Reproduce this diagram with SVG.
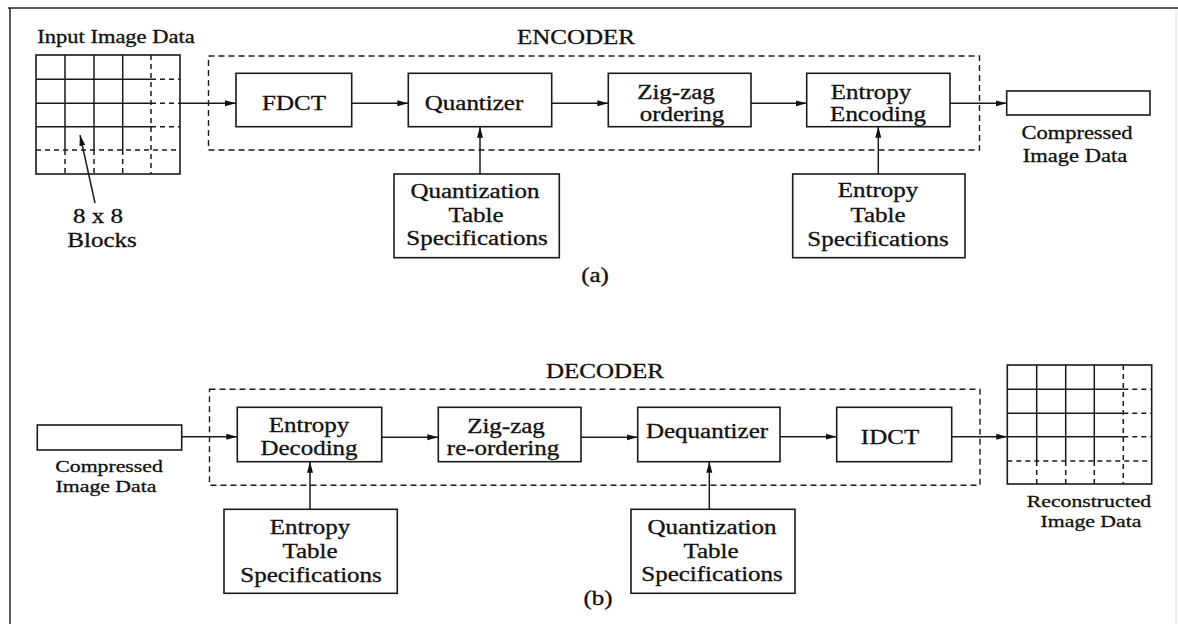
<svg xmlns="http://www.w3.org/2000/svg" width="1178" height="624" viewBox="0 0 1178 624">
<style>
.bx{fill:#fff;stroke:#1a1a1a;stroke-width:1.6}
.ds{fill:none;stroke:#1a1a1a;stroke-width:1.4;stroke-dasharray:6 4}
.ln{stroke:#1a1a1a;stroke-width:1.5;fill:none}
.gd{stroke:#1a1a1a;stroke-width:1.5;fill:none;stroke-dasharray:5 4}
.t{font-family:"Liberation Serif","Times New Roman",serif;font-size:20px;fill:#111;stroke:#111;stroke-width:0.3;text-anchor:middle}
.s{font-family:"Liberation Serif","Times New Roman",serif;font-size:18px;fill:#111;stroke:#111;stroke-width:0.3;text-anchor:middle}
.s2{font-family:"Liberation Serif","Times New Roman",serif;font-size:17px;fill:#111;stroke:#111;stroke-width:0.3;text-anchor:middle}
</style>
<defs>
<marker id="ah" markerUnits="userSpaceOnUse" markerWidth="12" markerHeight="8" refX="11" refY="3.5" orient="auto">
<path d="M0,0.5 L11,3.5 L0,6.5 z" fill="#111"/>
</marker>
</defs>
<rect width="1178" height="624" fill="#fff"/>
<g id="frame">
<line x1="8" y1="8" x2="1178" y2="8" stroke="#222" stroke-width="1.6"/>
<line x1="10" y1="8" x2="10" y2="624" stroke="#333" stroke-width="1.6"/>
<line x1="1176" y1="10" x2="1176" y2="624" stroke="#ddd" stroke-width="1"/>
</g>

<!-- ENCODER -->
<g id="encoder-frame">
<rect class="ds" x="208.5" y="56" width="771" height="94"/>
<text class="t" transform="translate(576,44) scale(1.25,1)">ENCODER</text>
</g>
<g id="input-grid">
<text class="s" transform="translate(116,43) scale(1.25,1)">Input Image Data</text>
<rect x="36" y="55" width="144" height="119" fill="none" stroke="#1a1a1a" stroke-width="1.6"/>
<path class="ln" d="M65,55V150M94,55V150M122.7,55V150M36,79.3H151M36,103.3H151M36,126.7H151"/>
<path class="gd" d="M65,150V174M94,150V174M122.7,150V174M151,55V174M151,79.3H180M151,103.3H180M151,126.7H180M36,150H180"/>
<text class="t" transform="translate(98,223) scale(1.25,1)">8 x 8</text>
<text class="t" transform="translate(102,247) scale(1.25,1)">Blocks</text>
</g>
<g id="fdct">
<rect class="bx" x="236" y="73.3" width="115.7" height="53.4"/>
<text class="t" transform="translate(294,110) scale(1.25,1)">FDCT</text>
</g>
<g id="quantizer">
<rect class="bx" x="408.3" y="73.3" width="143.4" height="53.4"/>
<text class="t" transform="translate(474,110) scale(1.25,1)">Quantizer</text>
</g>
<g id="zigzag">
<rect class="bx" x="608.3" y="73.3" width="142.7" height="53.4"/>
<text class="t" transform="translate(676,99) scale(1.25,1)">Zig-zag</text>
<text class="t" transform="translate(682,121) scale(1.25,1)">ordering</text>
</g>
<g id="entropy-encoding">
<rect class="bx" x="806.7" y="73.3" width="143.3" height="53.4"/>
<text class="t" transform="translate(871,99) scale(1.25,1)">Entropy</text>
<text class="t" transform="translate(878,121) scale(1.25,1)">Encoding</text>
</g>
<g id="compressed-out">
<rect class="bx" x="1006.7" y="91" width="143.3" height="24"/>
<text class="s" transform="translate(1077,139) scale(1.25,1)">Compressed</text>
<text class="s" transform="translate(1075,162) scale(1.25,1)">Image Data</text>
</g>
<g id="quant-table-enc">
<rect class="bx" x="394" y="174" width="165.3" height="83.7"/>
<text class="t" transform="translate(475,198) scale(1.25,1)">Quantization</text>
<text class="t" transform="translate(476,222) scale(1.25,1)">Table</text>
<text class="t" transform="translate(477,245) scale(1.25,1)">Specifications</text>
</g>
<g id="entropy-table-enc">
<rect class="bx" x="792.7" y="174" width="172.3" height="83.7"/>
<text class="t" transform="translate(878,197) scale(1.25,1)">Entropy</text>
<text class="t" transform="translate(878,222) scale(1.25,1)">Table</text>
<text class="t" transform="translate(878,246) scale(1.25,1)">Specifications</text>
</g>
<text class="t" transform="translate(595,282) scale(1.25,1)">(a)</text>

<!-- DECODER -->
<g id="decoder-frame">
<rect class="ds" x="209.5" y="389.3" width="770.5" height="96"/>
<text class="t" transform="translate(605,378) scale(1.25,1)">DECODER</text>
</g>
<g id="compressed-in">
<rect class="bx" x="37.3" y="425" width="144.4" height="25"/>
<text class="s2" transform="translate(109,472) scale(1.28,1)">Compressed</text>
<text class="s2" transform="translate(106,492) scale(1.28,1)">Image Data</text>
</g>
<g id="entropy-decoding">
<rect class="bx" x="237.3" y="407.3" width="144.4" height="54.4"/>
<text class="t" transform="translate(309,432) scale(1.25,1)">Entropy</text>
<text class="t" transform="translate(309,455) scale(1.25,1)">Decoding</text>
</g>
<g id="zigzag-re">
<rect class="bx" x="438.3" y="407.3" width="142.7" height="54.4"/>
<text class="t" transform="translate(506,432.5) scale(1.25,1)">Zig-zag</text>
<text class="t" transform="translate(503,455) scale(1.25,1)">re-ordering</text>
</g>
<g id="dequantizer">
<rect class="bx" x="637.7" y="407.3" width="142.3" height="54.4"/>
<text class="t" transform="translate(707,438) scale(1.25,1)">Dequantizer</text>
</g>
<g id="idct">
<rect class="bx" x="836.7" y="407.3" width="115" height="54.4"/>
<text class="t" transform="translate(890,444) scale(1.25,1)">IDCT</text>
</g>
<g id="output-grid">
<rect x="1007.3" y="365" width="144.4" height="119" fill="none" stroke="#1a1a1a" stroke-width="1.6"/>
<path class="ln" d="M1036.7,365V461M1065.7,365V461M1094.3,365V461M1007.3,389.3H1123.3M1007.3,413.3H1123.3M1007.3,436.7H1123.3"/>
<path class="gd" d="M1036.7,461V484M1065.7,461V484M1094.3,461V484M1123.3,365V484M1123.3,389.3H1151.7M1123.3,413.3H1151.7M1123.3,436.7H1151.7M1007.3,461H1151.7"/>
<text class="s2" transform="translate(1089,507) scale(1.28,1)">Reconstructed</text>
<text class="s2" transform="translate(1091,527) scale(1.28,1)">Image Data</text>
</g>
<g id="entropy-table-dec">
<rect class="bx" x="224" y="509.3" width="173.3" height="84"/>
<text class="t" transform="translate(310,534) scale(1.25,1)">Entropy</text>
<text class="t" transform="translate(310,558) scale(1.25,1)">Table</text>
<text class="t" transform="translate(311,581.5) scale(1.25,1)">Specifications</text>
</g>
<g id="quant-table-dec">
<rect class="bx" x="631" y="509.3" width="164" height="84"/>
<text class="t" transform="translate(712,534) scale(1.25,1)">Quantization</text>
<text class="t" transform="translate(711,558) scale(1.25,1)">Table</text>
<text class="t" transform="translate(712,581) scale(1.25,1)">Specifications</text>
</g>
<text class="t" transform="translate(598,605) scale(1.25,1)">(b)</text>

<g id="connectors" class="ln" marker-end="url(#ah)">
<line x1="180" y1="103.3" x2="236" y2="103.3"/>
<line x1="351.7" y1="103.3" x2="408.3" y2="103.3"/>
<line x1="551.7" y1="103.3" x2="608.3" y2="103.3"/>
<line x1="751" y1="103.3" x2="806.7" y2="103.3"/>
<line x1="950" y1="103.3" x2="1006.7" y2="103.3"/>
<line x1="480" y1="174" x2="480" y2="126.7"/>
<line x1="878.3" y1="174" x2="878.3" y2="126.7"/>
<line x1="95" y1="203" x2="80" y2="135"/>
<line x1="181.7" y1="436.7" x2="237.3" y2="436.7"/>
<line x1="381.7" y1="437.3" x2="438.3" y2="437.3"/>
<line x1="581" y1="437.3" x2="637.7" y2="437.3"/>
<line x1="780" y1="436.7" x2="836.7" y2="436.7"/>
<line x1="951.7" y1="436.7" x2="1007.3" y2="436.7"/>
<line x1="310" y1="509.3" x2="310" y2="461.7"/>
<line x1="709.3" y1="509.3" x2="709.3" y2="461.7"/>
</g>
</svg>
